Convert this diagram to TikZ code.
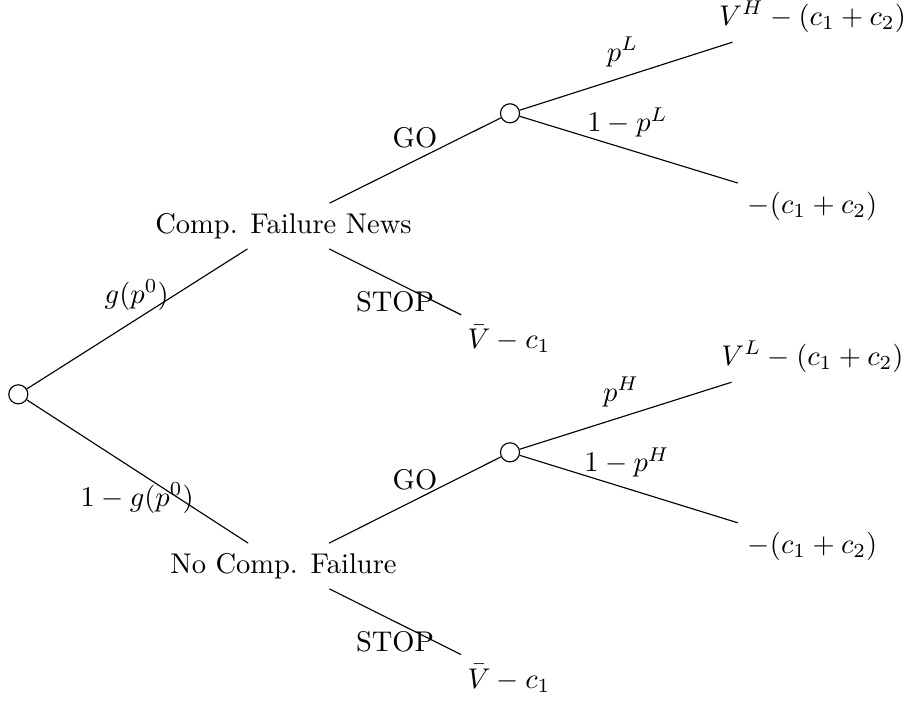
\documentclass[tikz,border=0pt]{standalone}
\begin{document}
\begin{tikzpicture}[x=0.35088pt,y=-0.35088pt,
  chance/.style={circle,draw,minimum size=6.7pt,inner sep=0pt},
  txt/.style={anchor=base},
  lbl/.style={anchor=base,inner sep=0pt},
  branch/.style={draw,line width=0.4pt}]
\useasboundingbox (0,0) rectangle (909,700);
% nodes
\node[chance] (r) at (18.3,394.3) {};
\node[txt] (a) at (283.5,233.3) {Comp. Failure News};
\node[txt] (b) at (283.5,573.3) {No Comp. Failure};
\node[chance] (c) at (510,113.3) {};
\node[chance] (d) at (510,452.3) {};
\node[txt] (sa) at (509,348.3) {$\bar{V}-c_1$};
\node[txt] (sb) at (509,688) {$\bar{V}-c_1$};
\node[txt] (ch) at (812.5,25) {$V^H-(c_1+c_2)$};
\node[txt] (cl) at (812.5,213) {$-(c_1+c_2)$};
\node[txt] (dh) at (812.5,365) {$V^L-(c_1+c_2)$};
\node[txt] (dl) at (812.5,553) {$-(c_1+c_2)$};
% connectors
\path[branch] (r) -- (a);
\path[branch] (r) -- (b);
\path[branch] (a) -- (c);
\path[branch] (a) -- (sa);
\path[branch] (b) -- (d);
\path[branch] (b) -- (sb);
\path[branch] (c) -- (ch);
\path[branch] (c) -- (cl);
\path[branch] (d) -- (dh);
\path[branch] (d) -- (dl);
% edge labels
\node[lbl] (l1) at (136.7,303.3) {$g(p^0)$};
\node[lbl] (l2) at (137.2,506) {$1-g(p^0)$};
\node[lbl] (l3) at (415,147.3) {GO};
\node[lbl] (l4) at (415,489.3) {GO};
\node[lbl] (l5) at (395,311.7) {STOP};
\node[lbl] (l6) at (395,651.7) {STOP};
\node[lbl] (l7) at (622.5,61) {$p^L$};
\node[lbl] (l8) at (627.5,131.7) {$1-p^L$};
\node[lbl] (l9) at (621,401) {$p^H$};
\node[lbl] (l10) at (627,471.7) {$1-p^H$};
\end{tikzpicture}
\end{document}
